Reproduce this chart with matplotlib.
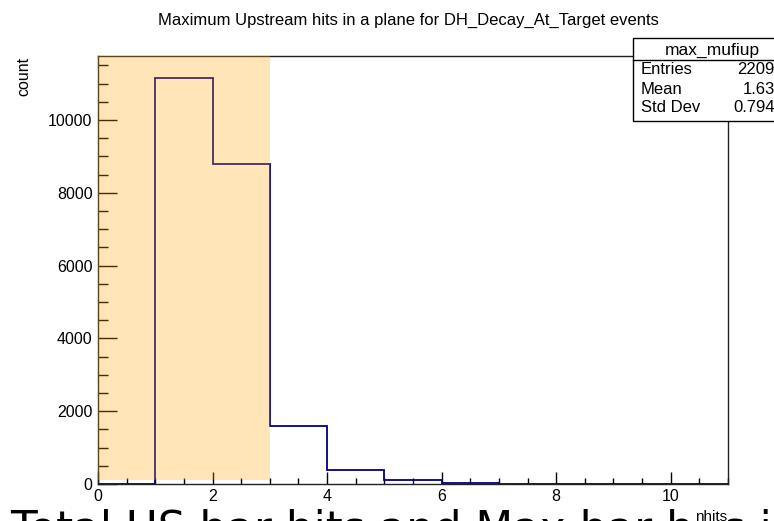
import matplotlib
matplotlib.use("Agg")
import matplotlib.pyplot as plt
from matplotlib.patches import Rectangle
from matplotlib.ticker import MultipleLocator

# histogram of max upstream hits per plane
edges = [0, 1, 2, 3, 4, 5, 6, 7, 8, 9, 10, 11]
counts = [0, 11150, 8790, 1590, 375, 105, 35, 0, 0, 0, 0]

stat_names = ["Entries", "Mean", "Std Dev"]
stat_values = ["2209", "1.63", "0.794"]

W, H = 774, 521
fig = plt.figure(figsize=(W / 100, H / 100), dpi=100)
plt.rcParams['font.family'] = ['Liberation Sans', 'DejaVu Sans']

def fx(px):
    return px / W

def fy(py):
    return 1 - py / H

ax = fig.add_axes([fx(98), fy(484), fx(728) - fx(98), fy(56) - fy(484)])
ax.stairs(counts, edges, color='#000080', lw=1.3, zorder=2)
ymax = 11760
ax.set_xlim(0, 11)
ax.set_ylim(0, ymax)

# highlighted region
ax.add_patch(Rectangle((0, 100), 3, ymax - 100, facecolor='#FFA500',
                       alpha=0.28, edgecolor='none', zorder=3))

ax.xaxis.set_major_locator(MultipleLocator(2))
ax.xaxis.set_minor_locator(MultipleLocator(0.5))
ax.yaxis.set_major_locator(MultipleLocator(2000))
ax.yaxis.set_minor_locator(MultipleLocator(500))
ax.tick_params(axis='x', which='major', direction='in', length=9, width=1,
               labelsize=11.5, pad=3.5)
ax.tick_params(axis='x', which='minor', direction='in', length=4.3, width=1)
ax.tick_params(axis='y', which='major', direction='in', length=14, width=1,
               labelsize=11.5, pad=4)
ax.tick_params(axis='y', which='minor', direction='in', length=7, width=1)
for s in ax.spines.values():
    s.set_linewidth(1)
    s.set_color('#222222')

fig.text(fx(408), fy(20), "Maximum Upstream hits in a plane for DH_Decay_At_Target events",
         ha='center', va='center', fontsize=12)
fig.text(fx(24), fy(57), "count", rotation=90, ha='center', va='top', fontsize=11.5)

# big caption, partly cut off by the bottom edge
fig.text(fx(10), fy(543), "Total US bar hits and Max bar hits in a plane",
         ha='left', va='baseline', fontsize=31.5, family='DejaVu Sans')
fig.text(fx(727), fy(510), "nhits", ha='right', va='top', fontsize=11,
         bbox=dict(facecolor='white', edgecolor='none', pad=0.5))

# stats box
bx0, by0, bx1, by1 = 633, 38, 790, 121
fig.patches.append(Rectangle((fx(bx0), fy(by1)), fx(bx1) - fx(bx0), fy(by0) - fy(by1),
                             transform=fig.transFigure, facecolor='white',
                             edgecolor='black', lw=1, zorder=5))
fig.lines.append(plt.Line2D([fx(bx0), fx(bx1)], [fy(60), fy(60)],
                            transform=fig.transFigure, color='black', lw=1, zorder=6))
fig.text(fx(712), fy(50), "max_mufiup", ha='center', va='center', fontsize=12.5, zorder=7)
row_y = [70, 89, 108]
for name, val, yy in zip(stat_names, stat_values, row_y):
    fig.text(fx(641), fy(yy), name, ha='left', va='center', fontsize=12, zorder=7)
    fig.text(fx(775), fy(yy), val, ha='right', va='center', fontsize=12, zorder=7)

fig.savefig("out.png", dpi=100)
